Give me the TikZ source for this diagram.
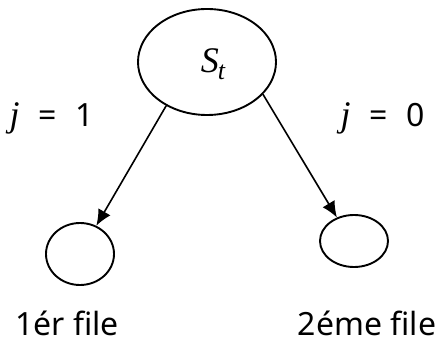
\documentclass[tikz,border=0pt]{standalone}
\usepackage{fontspec}
\setmainfont{Noto Sans}
\newfontfamily\varfont{Liberation Serif}
\newcommand{\var}[1]{{\varfont\itshape #1}}
\usetikzlibrary{shapes.geometric,arrows.meta}
\begin{document}
\begin{tikzpicture}[x=1pt,y=-1pt,
  state/.style={draw,ellipse,line width=1.9pt,inner sep=0pt},
  link/.style={line width=1.6pt,-{Latex[length=16pt,width=14pt]}},
  lbl/.style={inner sep=0pt,font=\fontsize{32}{36}\selectfont}]
\useasboundingbox (0,0) rectangle (439,347);
% states
\node[state,minimum width=138pt,minimum height=106pt] (top) at (207,62) {};
\node[inner sep=0pt,font=\fontsize{36}{40}\selectfont] (st) at (213,64)
  {\var{S}\kern-1pt\raisebox{-0.2em}{\fontsize{26}{28}\selectfont\var{t}}};
\node[state,minimum width=68pt,minimum height=62pt] (q1) at (80,254) {};
\node[state,minimum width=68pt,minimum height=52pt] (q2) at (354,241) {};
% transitions
\draw[link] (top.227) -- (q1.60);
\draw[link] (top.330) -- (q2.126);
% labels
\node[lbl] (j1) at (52,118) {{\fontsize{36}{40}\selectfont\var{j}}\,\, = \,\,1};
\node[lbl] (j0) at (383,118) {{\fontsize{36}{40}\selectfont\var{j}}\,\, = \,\,0};
\node[lbl] (f1) at (67,323) {1ér file};
\node[lbl] (f2) at (367,323) {2éme file};
\end{tikzpicture}
\end{document}
